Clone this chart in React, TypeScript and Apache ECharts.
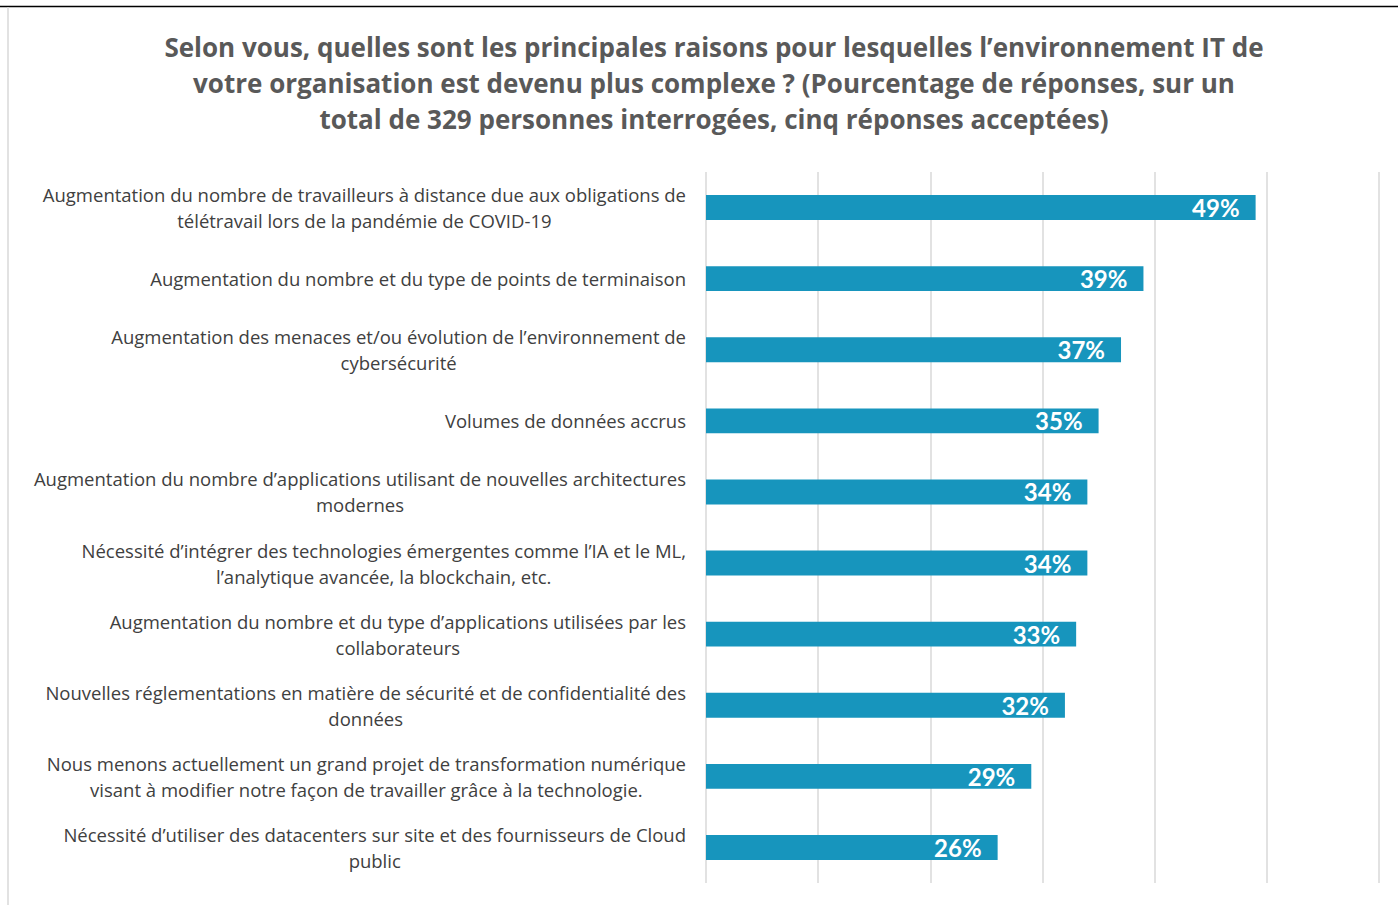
import React, { useEffect, useRef } from "react";
import * as echarts from "echarts";

const titleLines = [
  "Selon vous, quelles sont les principales raisons pour lesquelles l’environnement IT de",
  "votre organisation est devenu plus complexe ? (Pourcentage de réponses, sur un",
  "total de 329 personnes interrogées, cinq réponses acceptées)",
];

const categories = [
  "Augmentation du nombre de travailleurs à distance due aux obligations de\ntélétravail lors de la pandémie de COVID-19",
  "Augmentation du nombre et du type de points de terminaison",
  "Augmentation des menaces et/ou évolution de l’environnement de\ncybersécurité",
  "Volumes de données accrus",
  "Augmentation du nombre d’applications utilisant de nouvelles architectures\nmodernes",
  "Nécessité d’intégrer des technologies émergentes comme l’IA et le ML,\nl’analytique avancée, la blockchain, etc.",
  "Augmentation du nombre et du type d’applications utilisées par les\ncollaborateurs",
  "Nouvelles réglementations en matière de sécurité et de confidentialité des\ndonnées",
  "Nous menons actuellement un grand projet de transformation numérique\nvisant à modifier notre façon de travailler grâce à la technologie.",
  "Nécessité d’utiliser des datacenters sur site et des fournisseurs de Cloud\npublic",
];

const values = [49, 39, 37, 35, 34, 34, 33, 32, 29, 26];

export default function App() {
  const ref = useRef<HTMLDivElement>(null);
  useEffect(() => {
    if (!ref.current) return;
    const chart = echarts.init(ref.current, null, { renderer: "svg" });
    chart.setOption({
      animation: false,
      backgroundColor: "#ffffff",
      title: {
        text: titleLines.join("\n"),
        left: 709,
        top: 24,
        textAlign: "center",
        textStyle: {
          fontFamily: "Open Sans",
          fontWeight: "bold",
          fontSize: 26,
          lineHeight: 36,
          color: "#595959",
        },
      },
      graphic: [
        { type: "line", shape: { x1: 0, y1: 6.5, x2: 1398, y2: 6.5 }, style: { stroke: "#000000", lineWidth: 1.5 } },
        { type: "line", shape: { x1: 8, y1: 7, x2: 8, y2: 905 }, style: { stroke: "#d9d9d9", lineWidth: 1.5 } },
      ],
      grid: { left: 706, right: 19, top: 172, bottom: 22, containLabel: false },
      xAxis: {
        type: "value",
        min: 0,
        max: 60,
        interval: 10,
        axisLabel: { show: false },
        axisLine: { show: false },
        axisTick: { show: false },
        splitLine: { show: true, lineStyle: { color: "#d9d9d9", width: 1.5 } },
      },
      yAxis: {
        type: "category",
        inverse: true,
        data: categories,
        axisLine: { show: false },
        axisTick: { show: false },
        axisLabel: {
          margin: 20,
          formatter: (v: string) => v.split("\n").map((l) => `{c|${l}}`).join("\n"),
          rich: {
            c: {
              align: "center",
              fontFamily: "Open Sans",
              fontSize: 18.5,
              lineHeight: 26,
              color: "#404040",
            },
          },
        },
      },
      series: [
        {
          type: "bar",
          data: values,
          barCategoryGap: "65%",
          itemStyle: { color: "#1795bd" },
          label: {
            show: true,
            position: "insideRight",
            distance: 16,
            formatter: "{c}%",
            color: "#ffffff",
            fontFamily: "Lato",
            fontWeight: "bold",
            fontSize: 24,
          },
        },
      ],
    });
    return () => chart.dispose();
  }, []);
  return (
    <div
      ref={ref}
      style={{ position: "fixed", left: 0, top: 0, width: 1398, height: 905 }}
    />
  );
}
